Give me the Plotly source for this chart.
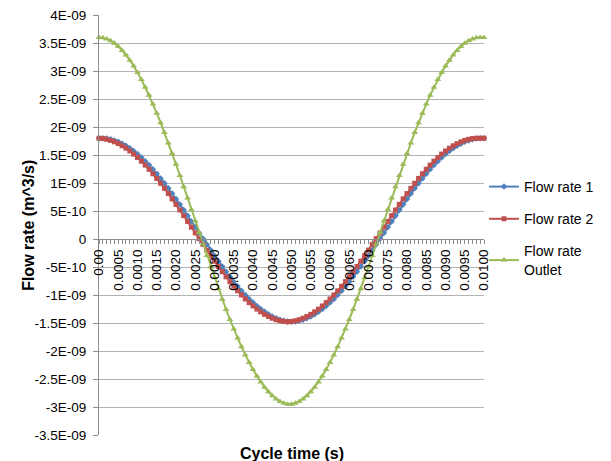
import plotly.graph_objects as go

# Cycle time categories (s)
cycle_time = [
    0.0000, 0.0001, 0.0002, 0.0003, 0.0004, 0.0005, 0.0006, 0.0007, 0.0008, 0.0009,
    0.0010, 0.0011, 0.0012, 0.0013, 0.0014, 0.0015, 0.0016, 0.0017, 0.0018, 0.0019,
    0.0020, 0.0021, 0.0022, 0.0023, 0.0024, 0.0025, 0.0026, 0.0027, 0.0028, 0.0029,
    0.0030, 0.0031, 0.0032, 0.0033, 0.0034, 0.0035, 0.0036, 0.0037, 0.0038, 0.0039,
    0.0040, 0.0041, 0.0042, 0.0043, 0.0044, 0.0045, 0.0046, 0.0047, 0.0048, 0.0049,
    0.0050, 0.0051, 0.0052, 0.0053, 0.0054, 0.0055, 0.0056, 0.0057, 0.0058, 0.0059,
    0.0060, 0.0061, 0.0062, 0.0063, 0.0064, 0.0065, 0.0066, 0.0067, 0.0068, 0.0069,
    0.0070, 0.0071, 0.0072, 0.0073, 0.0074, 0.0075, 0.0076, 0.0077, 0.0078, 0.0079,
    0.0080, 0.0081, 0.0082, 0.0083, 0.0084, 0.0085, 0.0086, 0.0087, 0.0088, 0.0089,
    0.0090, 0.0091, 0.0092, 0.0093, 0.0094, 0.0095, 0.0096, 0.0097, 0.0098, 0.0099,
    0.0100,
]

# Flow rates in units of 1E-09 m^3/s
flow_rate_1 = [
    1.799, 1.799, 1.793, 1.780, 1.761, 1.735, 1.703, 1.665, 1.621, 1.572,
    1.516, 1.456, 1.390, 1.320, 1.245, 1.165, 1.082, 0.995, 0.905, 0.811,
    0.716, 0.618, 0.518, 0.417, 0.314, 0.212, 0.108, 0.006, -0.097, -0.198,
    -0.298, -0.396, -0.491, -0.585, -0.675, -0.762, -0.845, -0.925, -1.000, -1.070,
    -1.136, -1.196, -1.252, -1.301, -1.345, -1.383, -1.415, -1.441, -1.460, -1.473,
    -1.479, -1.473, -1.460, -1.441, -1.415, -1.383, -1.345, -1.301, -1.252, -1.196,
    -1.136, -1.070, -1.000, -0.925, -0.845, -0.762, -0.675, -0.585, -0.491, -0.396,
    -0.298, -0.198, -0.097, 0.006, 0.108, 0.212, 0.314, 0.417, 0.518, 0.618,
    0.716, 0.811, 0.905, 0.995, 1.082, 1.165, 1.245, 1.320, 1.390, 1.456,
    1.516, 1.572, 1.621, 1.665, 1.703, 1.735, 1.761, 1.780, 1.793, 1.799,
    1.800,
]

flow_rate_2 = [
    1.799, 1.793, 1.780, 1.761, 1.735, 1.703, 1.665, 1.621, 1.572, 1.516,
    1.456, 1.390, 1.320, 1.245, 1.165, 1.082, 0.995, 0.905, 0.811, 0.716,
    0.618, 0.518, 0.417, 0.314, 0.212, 0.108, 0.006, -0.097, -0.198, -0.298,
    -0.396, -0.491, -0.585, -0.675, -0.762, -0.845, -0.925, -1.000, -1.070, -1.136,
    -1.196, -1.252, -1.301, -1.345, -1.383, -1.415, -1.441, -1.460, -1.473, -1.479,
    -1.473, -1.460, -1.441, -1.415, -1.383, -1.345, -1.301, -1.252, -1.196, -1.136,
    -1.070, -1.000, -0.925, -0.845, -0.762, -0.675, -0.585, -0.491, -0.396, -0.298,
    -0.198, -0.097, 0.006, 0.108, 0.212, 0.314, 0.417, 0.518, 0.618, 0.716,
    0.811, 0.905, 0.995, 1.082, 1.165, 1.245, 1.320, 1.390, 1.456, 1.516,
    1.572, 1.621, 1.665, 1.703, 1.735, 1.761, 1.780, 1.793, 1.799, 1.799,
    1.800,
]

flow_rate_outlet = [
    3.598, 3.592, 3.573, 3.541, 3.496, 3.438, 3.368, 3.286, 3.193, 3.088,
    2.972, 2.846, 2.710, 2.565, 2.410, 2.247, 2.077, 1.900, 1.716, 1.527,
    1.334, 1.136, 0.935, 0.731, 0.526, 0.320, 0.114, -0.091, -0.295, -0.496,
    -0.694, -0.887, -1.076, -1.260, -1.437, -1.607, -1.770, -1.925, -2.070, -2.206,
    -2.332, -2.448, -2.553, -2.646, -2.728, -2.798, -2.856, -2.901, -2.933, -2.952,
    -2.952, -2.933, -2.901, -2.856, -2.798, -2.728, -2.646, -2.553, -2.448, -2.332,
    -2.206, -2.070, -1.925, -1.770, -1.607, -1.437, -1.260, -1.076, -0.887, -0.694,
    -0.496, -0.295, -0.091, 0.114, 0.320, 0.526, 0.731, 0.935, 1.136, 1.334,
    1.527, 1.716, 1.900, 2.077, 2.247, 2.410, 2.565, 2.710, 2.846, 2.972,
    3.088, 3.193, 3.286, 3.368, 3.438, 3.496, 3.541, 3.573, 3.592, 3.598,
    3.600,
]

x_tick_vals = [
    0.0000, 0.0005, 0.0010, 0.0015, 0.0020, 0.0025, 0.0030, 0.0035, 0.0040, 0.0045,
    0.0050, 0.0055, 0.0060, 0.0065, 0.0070, 0.0075, 0.0080, 0.0085, 0.0090, 0.0095,
    0.0100,
]
x_tick_text = [
    "0.00", "0.0005", "0.0010", "0.0015", "0.0020", "0.0025", "0.0030", "0.0035",
    "0.0040", "0.0045", "0.0050", "0.0055", "0.0060", "0.0065", "0.0070", "0.0075",
    "0.0080", "0.0085", "0.0090", "0.0095", "0.0100",
]

y_tick_vals = [4, 3.5, 3, 2.5, 2, 1.5, 1, 0.5, 0, -0.5, -1, -1.5, -2, -2.5, -3, -3.5]
y_tick_text = [
    "4E-09", "3.5E-09", "3E-09", "2.5E-09", "2E-09", "1.5E-09", "1E-09", "5E-10",
    "0", "-5E-10", "-1E-09", "-1.5E-09", "-2E-09", "-2.5E-09", "-3E-09", "-3.5E-09",
]

FONT = "Liberation Sans, Arial, sans-serif"
GRID = "#b3b3b3"
AXIS = "#8c8c8c"

fig = go.Figure()
fig.add_trace(go.Scatter(
    x=cycle_time, y=flow_rate_1, name="Flow rate 1", mode="lines+markers",
    line=dict(color="#4F81BD", width=2),
    marker=dict(symbol="diamond", size=5, color="#4F81BD"),
    cliponaxis=False, legendgroup="a",
))
fig.add_trace(go.Scatter(
    x=cycle_time, y=flow_rate_2, name="Flow rate 2", mode="lines+markers",
    line=dict(color="#C0504D", width=2),
    marker=dict(symbol="square", size=5, color="#C0504D"),
    cliponaxis=False, legendgroup="b",
))
fig.add_trace(go.Scatter(
    x=cycle_time, y=flow_rate_outlet, name="Flow rate<br>Outlet", mode="lines+markers",
    line=dict(color="#9BBB59", width=2),
    marker=dict(symbol="triangle-up", size=6, color="#9BBB59"),
    cliponaxis=False, legendgroup="c",
))

PLOT_TOP, PLOT_BOTTOM, PLOT_LEFT, PLOT_RIGHT = 15, 435, 99, 494
PH = PLOT_BOTTOM - PLOT_TOP
PW = PLOT_RIGHT - PLOT_LEFT

fig.update_layout(
    width=611, height=461,
    margin=dict(l=PLOT_LEFT, r=611 - PLOT_RIGHT, t=PLOT_TOP, b=461 - PLOT_BOTTOM),
    paper_bgcolor="white", plot_bgcolor="white",
    font=dict(family=FONT, size=13.5, color="#000000"),
    showlegend=True,
    legend=dict(
        x=1.0, y=(PLOT_BOTTOM - 171) / PH, xanchor="left", yanchor="top",
        font=dict(family=FONT, size=14), tracegroupgap=11,
        itemwidth=30, bgcolor="rgba(0,0,0,0)",
    ),
    xaxis=dict(
        range=[0, 0.01], anchor="free", position=3.5 / 7.5,
        tickmode="array", tickvals=x_tick_vals, ticktext=x_tick_text,
        tickangle=-90, ticks="outside", ticklen=4, tickcolor=AXIS,
        minor=dict(ticks="outside", dtick=0.0001, tick0=0, ticklen=4, tickcolor=AXIS, showgrid=False),
        showline=True, linecolor=AXIS, linewidth=1,
        showgrid=False, zeroline=False, automargin=False,
        tickfont=dict(family=FONT, size=13.5),
    ),
    yaxis=dict(
        range=[-3.5, 4], tickmode="array", tickvals=y_tick_vals, ticktext=y_tick_text,
        ticks="outside", ticklen=5, tickcolor=AXIS, ticklabelstandoff=4,
        showline=True, linecolor=AXIS, linewidth=1,
        showgrid=True, gridcolor=GRID, gridwidth=1,
        zeroline=False, automargin=False,
        tickfont=dict(family=FONT, size=13.5),
    ),
    annotations=[
        dict(text="<b>Flow rate (m^3/s)</b>", x=(26 - PLOT_LEFT) / PW, xref="paper", y=0.5, yref="paper",
             xanchor="center", yanchor="middle", textangle=-90, showarrow=False,
             font=dict(family=FONT, size=16)),
        dict(text="<b>Cycle time (s)</b>", x=0.5, xref="paper", y=-(453 - PLOT_BOTTOM) / PH, yref="paper",
             xanchor="center", yanchor="middle", showarrow=False,
             font=dict(family=FONT, size=16)),
    ],
)

fig.write_html(
    "out.html",
    config={"displayModeBar": False},
    post_script="document.body.style.margin='0';",
)
